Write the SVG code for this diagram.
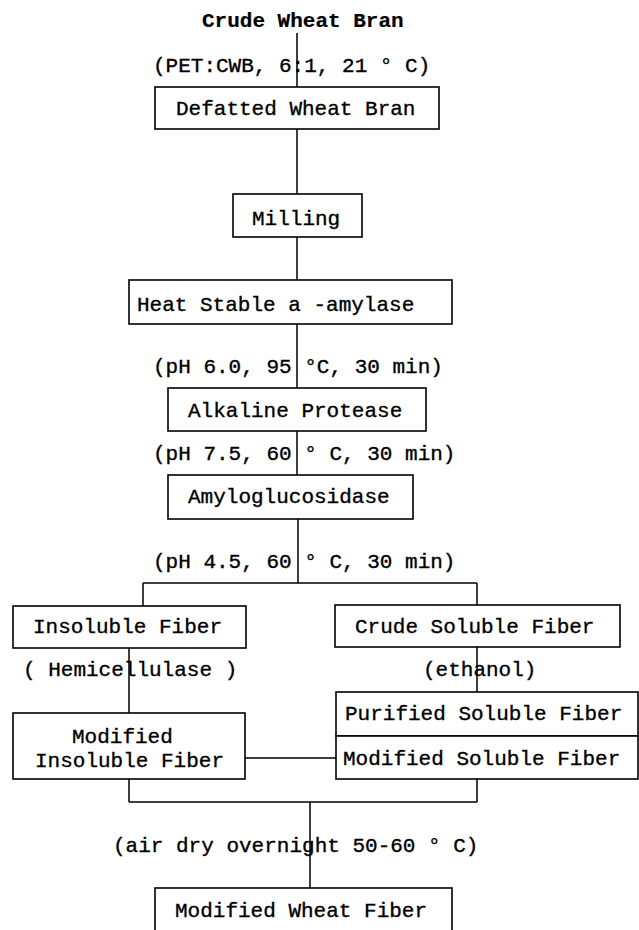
<svg xmlns="http://www.w3.org/2000/svg" width="639" height="930" viewBox="0 0 639 930">
<style>
.box{fill:#fff;stroke:#000;stroke-width:1.6}
.ln{fill:none;stroke:#000;stroke-width:1.5}
text{font-family:"Liberation Mono","Courier New",monospace;font-size:21px;fill:#000;stroke:#000;stroke-width:0.35}
.b{font-weight:bold;stroke-width:0.2}
</style>
<rect width="639" height="930" fill="#fff"/>
<g id="connectors">
<path class="ln" d="M297 33V87M297 129V194M297 237V280M297 324V388M297 431V475M298 519V583M143 583H477M143 583V606M477 583V605M129 648V713M477 647V692M245 758H336M129 779V802M477 779V802M129 802H477M310 802V888"/>
</g>
<g id="title"><text class="b" x="202" y="27">Crude Wheat Bran</text></g>
<g id="lbl1"><text x="153" y="72">(PET:CWB, 6:1, 21 ° C)</text></g>
<g id="defatted"><rect class="box" x="155" y="87" width="284" height="42"/><text x="176" y="115">Defatted Wheat Bran</text></g>
<g id="milling"><rect class="box" x="233" y="194" width="129" height="43"/><text x="252" y="225">Milling</text></g>
<g id="heat"><rect class="box" x="129" y="280" width="323" height="44"/><text x="137" y="311">Heat Stable a -amylase</text></g>
<g id="lbl2"><text x="153" y="373">(pH 6.0, 95 °C, 30 min)</text></g>
<g id="alkaline"><rect class="box" x="168" y="388" width="258" height="43"/><text x="188" y="417">Alkaline Protease</text></g>
<g id="lbl3"><text x="153" y="460">(pH 7.5, 60 ° C, 30 min)</text></g>
<g id="amylo"><rect class="box" x="168" y="475" width="245" height="44"/><text x="188" y="503">Amyloglucosidase</text></g>
<g id="lbl4"><text x="153" y="568">(pH 4.5, 60 ° C, 30 min)</text></g>
<g id="insoluble"><rect class="box" x="13" y="606" width="233" height="42"/><text x="33" y="633">Insoluble Fiber</text></g>
<g id="crude-soluble"><rect class="box" x="335" y="605" width="285" height="42"/><text x="355" y="633">Crude Soluble Fiber</text></g>
<g id="lbl5"><text x="23" y="676">( Hemicellulase )</text></g>
<g id="lbl6"><text x="423" y="676">(ethanol)</text></g>
<g id="mod-insoluble"><rect class="box" x="13" y="713" width="232" height="66"/><text x="72" y="743">Modified</text><text x="35" y="767">Insoluble Fiber</text></g>
<g id="purified"><rect class="box" x="336" y="692" width="302" height="44"/><text x="345" y="720">Purified Soluble Fiber</text></g>
<g id="mod-soluble"><rect class="box" x="336" y="736" width="302" height="43"/><text x="343" y="765">Modified Soluble Fiber</text></g>
<g id="lbl7"><text x="113" y="852">(air dry overnight 50-60 ° C)</text></g>
<g id="final"><rect class="box" x="155" y="888" width="297" height="60"/><text x="175" y="917">Modified Wheat Fiber</text></g>
</svg>
